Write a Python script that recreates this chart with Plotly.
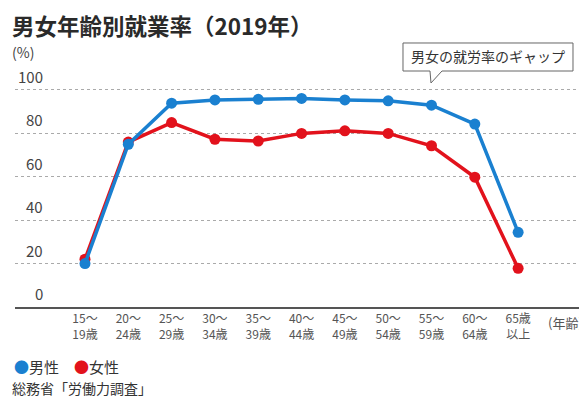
import plotly.graph_objects as go

categories = ["15〜<br>19歳", "20〜<br>24歳", "25〜<br>29歳", "30〜<br>34歳", "35〜<br>39歳",
              "40〜<br>44歳", "45〜<br>49歳", "50〜<br>54歳", "55〜<br>59歳", "60〜<br>64歳", "65歳<br>以上"]
male = [20.0, 75.0, 93.9, 95.4, 95.7, 96.1, 95.4, 95.0, 93.0, 84.3, 34.4]
female = [22.0, 76.0, 85.0, 77.3, 76.5, 80.0, 81.2, 80.0, 74.3, 59.8, 17.8]
y_ticks = [0, 20, 40, 60, 80, 100]

BLUE = "#1a80d0"
RED = "#e2121c"
FONT = "Noto Sans CJK JP"

OFF = 8  # page body margin
W, H = 587 - OFF, 407 - OFF
# plot area in page pixels: x 15..587, y 85..307
PL, PR, PT, PB = 15, 587, 85, 307
L, T = PL - OFF, PT - OFF
R = W - (PR - OFF)
B = H - (PB - OFF)
PW, PH = PR - PL, PB - PT


def px(xp):  # page px -> paper
    return (xp - PL) / PW


def py(yp):  # page px -> paper
    return (PB - yp) / PH


xs = list(range(len(categories)))

fig = go.Figure()
fig.add_trace(go.Scatter(x=xs, y=female, mode="lines+markers", name="女性",
                         line=dict(color=RED, width=3.5), marker=dict(size=11, color=RED)))
fig.add_trace(go.Scatter(x=xs, y=male, mode="lines+markers", name="男性",
                         line=dict(color=BLUE, width=3.5), marker=dict(size=11, color=BLUE)))

annotations = []
for v in y_ticks:
    annotations.append(dict(x=px(45), y=v, xref="paper", yref="y", text=str(v),
                            showarrow=False, xanchor="right", yanchor="bottom", yshift=1,
                            font=dict(family=FONT, size=15, color="#444")))

annotations += [
    dict(x=px(10), y=py(25), xref="paper", yref="paper", text="<b>男女年齢別就業率（2019年）</b>",
         showarrow=False, xanchor="left", yanchor="middle",
         font=dict(family=FONT, size=22.5, color="#2a2a2a")),
    dict(x=px(10), y=py(52), xref="paper", yref="paper", text="(%)",
         showarrow=False, xanchor="left", yanchor="middle",
         font=dict(family=FONT, size=14, color="#444")),
    dict(x=px(546), y=py(322), xref="paper", yref="paper", text="(年齢)",
         showarrow=False, xanchor="left", yanchor="middle",
         font=dict(family=FONT, size=13, color="#555")),
    dict(x=px(12), y=py(366), xref="paper", yref="paper",
         text=f'<span style="color:{BLUE}">●</span>男性　<span style="color:{RED}">●</span>女性',
         showarrow=False, xanchor="left", yanchor="middle",
         font=dict(family=FONT, size=15, color="#333")),
    dict(x=px(10), y=py(388), xref="paper", yref="paper", text="総務省「労働力調査」",
         showarrow=False, xanchor="left", yanchor="middle",
         font=dict(family=FONT, size=14, color="#333")),
    dict(x=px(488), y=py(56), xref="paper", yref="paper", text="男女の就労率のギャップ",
         showarrow=False, xanchor="center", yanchor="middle",
         font=dict(family=FONT, size=14, color="#333")),
]

# callout box with tail (page px)
pts = [(403, 43), (573, 43), (573, 71), (442, 71), (431, 83), (430, 71), (403, 71)]
path = "M " + " L ".join(f"{px(a):.5f},{py(b):.5f}" for a, b in pts) + " Z"
shapes = [dict(type="path", xref="paper", yref="paper", path=path,
               line=dict(color="#666", width=1), fillcolor="white", layer="above")]

fig.update_layout(
    width=W, height=H,
    margin=dict(l=L, r=R, t=T, b=B, pad=0),
    paper_bgcolor="white", plot_bgcolor="white",
    showlegend=False,
    annotations=annotations,
    shapes=shapes,
    xaxis=dict(range=[-1.616, 11.59], tickmode="array", tickvals=xs, ticktext=categories,
               showgrid=False, zeroline=False, showline=True, linecolor="#555", linewidth=1.5,
               ticks="", tickfont=dict(family=FONT, size=12, color="#555"), fixedrange=True),
    yaxis=dict(range=[0, 102.3], tickvals=y_ticks[1:], showticklabels=False,
               showgrid=True, gridcolor="#aaa", griddash="dot", gridwidth=1,
               zeroline=False, showline=False, fixedrange=True),
)

fig.write_html("out.html")
